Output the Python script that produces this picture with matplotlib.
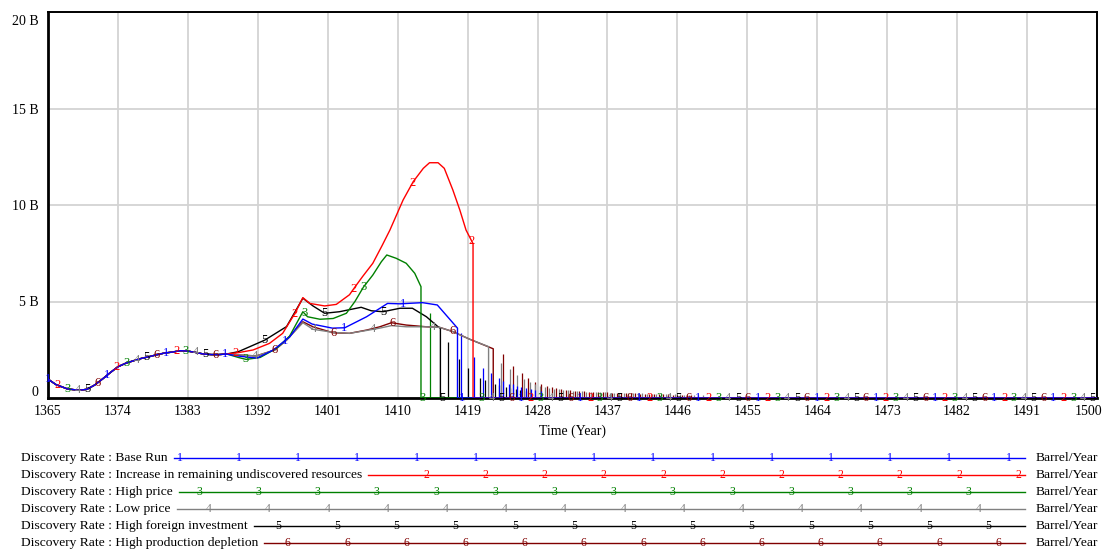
import numpy as np
import matplotlib.pyplot as plt
from matplotlib.transforms import ScaledTranslation

plt.rcParams["font.family"] = ["Liberation Serif", "DejaVu Serif"]

# ---- DATA (billion barrel / year) ----
NAMES = ["Base Run", "Increase in remaining undiscovered resources", "High price",
         "Low price", "High foreign investment", "High production depletion"]
COLORS = ["#0000ff", "#ff0000", "#008000", "#808080", "#000000", "#800000"]
UNIT = "Barrel/Year"

X_TICKS = [1365, 1374, 1383, 1392, 1401, 1410, 1419, 1428, 1437, 1446, 1455, 1464, 1473, 1482, 1491, 1500]
Y_TICKS = [0, 5, 10, 15, 20]
Y_TICK_LABELS = ["0", "5 B", "10 B", "15 B", "20 B"]

# shared history, all runs identical
hist_years = [1365, 1366, 1367.5, 1369, 1370, 1371, 1372, 1373, 1374, 1375, 1376, 1377,
              1378, 1379, 1380, 1381, 1382, 1383, 1384, 1385, 1386, 1387, 1388]
hist_vals = [0.98, 0.70, 0.47, 0.40, 0.45, 0.67, 0.98, 1.31, 1.62, 1.80, 1.93, 2.05,
             2.14, 2.24, 2.33, 2.38, 2.45, 2.43, 2.36, 2.28, 2.25, 2.25, 2.28]

base_years = [1389, 1390.6, 1391.9, 1394, 1396.1, 1397.8, 1399, 1401.6, 1403.2, 1406,
              1408.7, 1410.3, 1413.2, 1415.1, 1417.7]
base_vals = [2.20, 2.12, 2.07, 2.49, 3.16, 4.09, 3.83, 3.62, 3.64, 4.21,
             4.90, 4.88, 4.94, 4.82, 3.62]

red_years = [1389.5, 1391.4, 1393.5, 1395.2, 1396.8, 1397.8, 1398.7, 1400.6, 1402.1, 1403.8,
             1404.5, 1405.5, 1406.8, 1408, 1409, 1410.7, 1412, 1413.3, 1414.1, 1415.2,
             1416, 1417.1, 1418, 1418.8, 1419.7]
red_vals = [2.35, 2.49, 2.83, 3.35, 4.40, 5.20, 4.90, 4.77, 4.85, 5.35,
            5.75, 6.30, 6.98, 7.90, 8.70, 10.26, 11.21, 11.90, 12.19, 12.19,
            11.90, 10.78, 9.74, 8.70, 8.00]

green_years = [1389.5, 1390.5, 1392.3, 1394.4, 1396.1, 1397.8, 1398.4, 1400, 1401.7, 1403.4,
               1404.5, 1405.6, 1406.8, 1407.9, 1408.6, 1409.8, 1411.1, 1412.2, 1412.8, 1413.0]
green_vals = [2.10, 2.00, 2.10, 2.57, 3.21, 4.47, 4.21, 4.08, 4.12, 4.39,
              5.00, 5.75, 6.37, 7.06, 7.41, 7.24, 6.98, 6.46, 5.94, 5.77]

gray_years = [1389.5, 1391.8, 1394.2, 1395.7, 1397.8, 1399.1, 1401.7, 1403.8, 1406, 1407.7,
              1409.2, 1411.1, 1413.7, 1415.4, 1417.1, 1419.3, 1421.7]
gray_vals = [2.23, 2.18, 2.49, 3.00, 3.90, 3.56, 3.40, 3.35, 3.50, 3.62,
             3.75, 3.69, 3.69, 3.66, 3.44, 3.04, 2.66]

black_years = [1389.5, 1392.9, 1395.7, 1397.8, 1399.1, 1400.6, 1402.5, 1405.3, 1406.6, 1408.1,
               1410.3, 1411.9, 1413.7, 1415.2, 1415.5]
black_vals = [2.40, 3.00, 3.70, 5.17, 4.77, 4.39, 4.47, 4.70, 4.52, 4.47,
              4.65, 4.65, 4.21, 3.69, 3.61]

dred_years = [1389.5, 1391.8, 1394.2, 1395.7, 1397.8, 1399.1, 1401.7, 1403.8, 1406, 1407.7,
              1409.2, 1411.1, 1413.7, 1415.4, 1417.1, 1419.3, 1422.3]
dred_vals = [2.23, 2.18, 2.49, 3.00, 3.95, 3.69, 3.38, 3.35, 3.52, 3.69,
             3.90, 3.78, 3.69, 3.66, 3.44, 3.04, 2.55]

# pulses after each run collapses (year, height)
base_spike_years = [1418.1, 1419.8, 1421.0, 1422.0, 1423.0, 1423.6, 1424.3, 1424.8, 1425.4, 1425.9,
                    1426.5, 1427.1, 1427.7, 1428.4]
base_spike_vals = [3.37, 2.10, 1.55, 1.30, 1.04, 0.88, 0.75, 0.72, 0.62, 0.57,
                   0.50, 0.45, 0.40, 0.35]
red_spike_years = []
red_spike_vals = []
green_spike_years = [1414.1]
green_spike_vals = [4.42]
gray_spike_years = [1423.3, 1424.4, 1425.3, 1426.2, 1427.0, 1427.7, 1428.3, 1428.9, 1429.5, 1430.1,
                    1430.7, 1431.3, 1431.9, 1432.5, 1433.1, 1433.7, 1434.3, 1434.9, 1435.5, 1436.1,
                    1436.7, 1437.3, 1437.9, 1438.5, 1439.1, 1439.7, 1440.3, 1440.9, 1441.5, 1442.1,
                    1442.7, 1443.3, 1443.9, 1444.5, 1445.1, 1445.7, 1446.3, 1446.9, 1447.5, 1448.1,
                    1448.7, 1449.3]
gray_spike_vals = [1.83, 1.49, 1.20, 1.00, 0.85, 0.72, 0.62, 0.56, 0.52, 0.48,
                   0.45, 0.42, 0.40, 0.38, 0.36, 0.34, 0.33, 0.32, 0.31, 0.30,
                   0.29, 0.28, 0.28, 0.27, 0.26, 0.26, 0.25, 0.24, 0.24, 0.23,
                   0.22, 0.22, 0.21, 0.21, 0.20, 0.19, 0.19, 0.18, 0.17, 0.16,
                   0.15, 0.14]
black_spike_years = [1416.5, 1417.9, 1419.0, 1420.6, 1421.3, 1422.5, 1423.1, 1423.9, 1424.5, 1425.2,
                     1425.8, 1426.5]
black_spike_vals = [2.92, 2.02, 1.57, 1.05, 0.93, 0.73, 0.65, 0.55, 0.50, 0.45,
                    0.40, 0.36]
dred_spike_years = [1423.6, 1424.9, 1426.0, 1426.8, 1427.7, 1428.5, 1429.2, 1429.8, 1430.4, 1431.0,
                    1431.6, 1432.2, 1432.8, 1433.4, 1434.0, 1434.6, 1435.2, 1435.8, 1436.4, 1437.0,
                    1437.6, 1438.2, 1438.8, 1439.4, 1440.0, 1440.6, 1441.2, 1441.8, 1442.4, 1443.0,
                    1443.6, 1444.2, 1444.8, 1445.4, 1446.0, 1446.6, 1447.2, 1447.8]
dred_spike_vals = [2.28, 1.66, 1.30, 1.05, 0.85, 0.72, 0.62, 0.55, 0.50, 0.46,
                   0.43, 0.40, 0.38, 0.36, 0.34, 0.33, 0.32, 0.31, 0.30, 0.29,
                   0.28, 0.27, 0.26, 0.26, 0.25, 0.24, 0.23, 0.23, 0.22, 0.21,
                   0.21, 0.20, 0.19, 0.18, 0.17, 0.16, 0.15, 0.14]

RUN_YEARS = [base_years, red_years, green_years, gray_years, black_years, dred_years]
RUN_VALS = [base_vals, red_vals, green_vals, gray_vals, black_vals, dred_vals]
SPIKE_YEARS = [base_spike_years, red_spike_years, green_spike_years,
               gray_spike_years, black_spike_years, dred_spike_years]
SPIKE_VALS = [base_spike_vals, red_spike_vals, green_spike_vals,
              gray_spike_vals, black_spike_vals, dred_spike_vals]

# Vensim-style numbered markers: one every MARK_PERIOD years, runs offset by MARK_STEP
MARK_PERIOD = 7.611
MARK_STEP = MARK_PERIOD / 6

W, H = 1104, 552
fig = plt.figure(figsize=(W / 100, H / 100), dpi=100)
ax = fig.add_axes([48 / W, 1 - 398 / H, 1049 / W, 386 / H])

x_min, x_max = X_TICKS[0], X_TICKS[-1]

for k in reversed(range(6)):
    c = COLORS[k]
    yrs = hist_years + RUN_YEARS[k]
    vals = hist_vals + RUN_VALS[k]
    # run collapses to zero after its last value
    px = yrs + [yrs[-1], x_max]
    py = vals + [0.0, 0.0]
    ax.vlines(SPIKE_YEARS[k], 0, SPIKE_VALS[k], color=c, lw=0.9, zorder=2)
    ax.plot(px, py, color=c, lw=1.0, zorder=3)

    mt = x_min + k * MARK_STEP + MARK_PERIOD * np.arange(20)
    mt = mt[mt <= x_max]
    mv = np.interp(mt, px, py)
    for t, v in zip(mt, mv):
        ax.text(t, v, str(k + 1), color=c, fontsize=9, ha="center", va="center",
                zorder=4, clip_on=False)

ax.set_xlim(x_min, x_max)
ax.set_ylim(0, 20)
ax.set_xticks(X_TICKS)
ax.set_yticks(Y_TICKS)
ax.set_yticklabels(Y_TICK_LABELS)
ax.tick_params(length=0, labelsize=10, pad=7)
ax.tick_params(axis="x", pad=5)
ax.grid(True, color="#d3d3d3", lw=1.3)
ax.set_axisbelow(True)
for s in ax.spines.values():
    s.set_linewidth(1.4)
    s.set_color("black")
ax.spines["left"].set_linewidth(2.0)
ax.spines["bottom"].set_linewidth(2.0)

# nudge the end labels inwards like the original
ylabels = ax.get_yticklabels()
ylabels[0].set_transform(ylabels[0].get_transform() + ScaledTranslation(0, 0.07, fig.dpi_scale_trans))
ylabels[-1].set_transform(ylabels[-1].get_transform() + ScaledTranslation(0, -0.08, fig.dpi_scale_trans))
xlabels = ax.get_xticklabels()
xlabels[-1].set_transform(xlabels[-1].get_transform() + ScaledTranslation(-0.08, 0, fig.dpi_scale_trans))

ax.set_xlabel("Time (Year)", fontsize=10, labelpad=5)

# legend rows under the plot
fig.canvas.draw()
renderer = fig.canvas.get_renderer()
LINE_END = 1025
for k in range(6):
    y_px = 458 + 17 * k
    yf = 1 - y_px / H
    t = fig.text(21 / W, yf, "Discovery Rate : " + NAMES[k], fontsize=9.7,
                 ha="left", va="center")
    bb = t.get_window_extent(renderer)
    x0 = bb.x1 + 6
    fig.add_artist(plt.Line2D([x0 / W, LINE_END / W], [yf, yf], color=COLORS[k], lw=1.0))
    mx = 179.6 + k * 9.8 + 59.2 * np.arange(20)
    for m in mx:
        if x0 + 2 <= m <= LINE_END + 1:
            fig.text(m / W, yf, str(k + 1), color=COLORS[k], fontsize=8.5,
                     ha="center", va="center")
    fig.text(1036 / W, yf, UNIT, fontsize=9.7, ha="left", va="center")

fig.savefig("out.png", dpi=100)
